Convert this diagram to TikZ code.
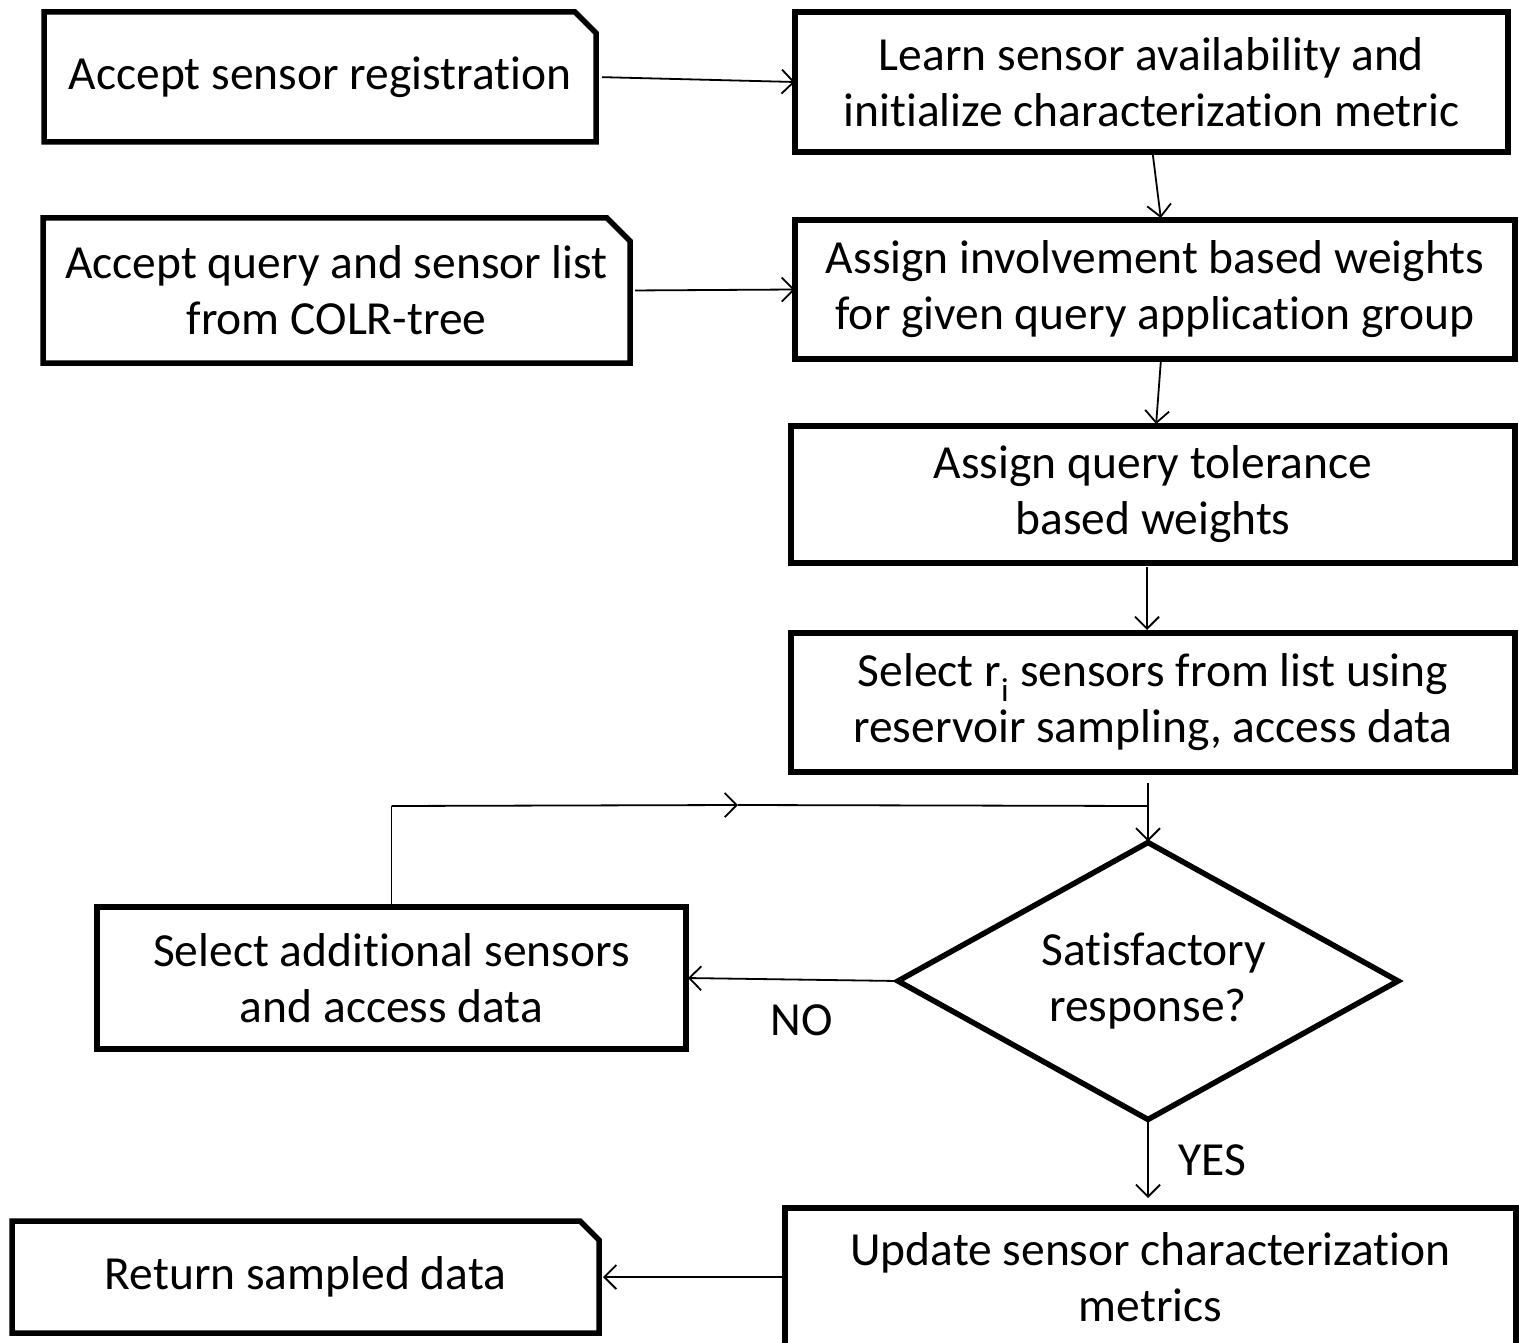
\documentclass[tikz,border=0pt]{standalone}
\usepackage{fontspec}
\setmainfont[Ligatures={NoCommon}]{Carlito}
\usetikzlibrary{arrows.meta,shapes.geometric}
\newcommand\cardoutline[2]{%
  \draw[boxline] (#1.south west) -- (#1.north west) -- ([xshift=-#2pt]#1.north east)
    -- ([yshift=-#2pt]#1.north east) -- (#1.south east) -- cycle;}
\begin{document}
\begin{tikzpicture}[x=1pt,y=-1pt,
  txt/.style={font=\fontsize{47.5}{56}\selectfont, align=center},
  boxline/.style={line width=5.5pt, line join=miter},
  proc/.style={draw, boxline, rectangle, inner sep=0pt, outer sep=0pt, txt},
  card/.style={rectangle, inner sep=0pt, outer sep=0pt, txt},
  decision/.style={draw, boxline, diamond, inner sep=0pt, outer sep=0pt, aspect=1.8, txt},
  conn/.style={line width=1.8pt},
  tip/.style={-{Straight Barb[length=12pt,width=24pt,line width=1.8pt]}},
  lbl/.style={txt, inner sep=0pt}
]
\useasboundingbox (0,0) rectangle (1519,1343);

% nodes
\node[card, minimum width=552pt, minimum height=130pt] (A) at (320,77) {Accept sensor registration};
\cardoutline{A}{21}
\node[proc, minimum width=713pt, minimum height=140pt] (B) at (1151.5,82) {Learn sensor availability and\\initialize characterization metric};
\node[card, minimum width=587pt, minimum height=145pt] (C) at (336.5,290.5) {Accept query and sensor list\\from COLR-tree};
\cardoutline{C}{23}
\node[proc, minimum width=720pt, minimum height=139pt] (D) at (1155,289.5) {Assign involvement based weights\\for given query application group};
\node[proc, minimum width=724pt, minimum height=137pt] (E) at (1153,494.5) {Assign query tolerance\\based weights};
\node[proc, minimum width=724pt, minimum height=139pt] (F) at (1153,702.5) {Select r\textsubscript{i} sensors from list using\\reservoir sampling, access data};
\node[decision, minimum width=500pt, minimum height=277pt] (dia) at (1148,981) {\hspace*{12pt}Satisfactory\\response?};
\node[proc, minimum width=589pt, minimum height=142pt] (G) at (391.5,978) {Select additional sensors\\and access data};
\node[proc, minimum width=731pt, minimum height=138pt] (H) at (1150.5,1277) {Update sensor characterization\\metrics};
\node[card, minimum width=587pt, minimum height=112pt] (I) at (305.5,1277) {Return sampled data};
\cardoutline{I}{19}

\node[lbl] (no) at (802,1020) {NO};
\node[lbl] (yes) at (1212,1160) {YES};

\coordinate (jn) at (1148,806);
\coordinate (lc) at (391.5,806);
\coordinate (lm) at (738,805);

% connectors
\draw[conn,tip,shorten <=6pt] (A.east) -- (B.west);
\draw[conn,tip,shorten <=5pt] (C.east) -- (D.west);
\draw[conn,tip,shorten >=2pt] ([xshift=1pt]B.south) -- ([xshift=6pt]D.north);
\draw[conn,tip,shorten <=2pt,shorten >=2pt] ([xshift=6pt]D.south) -- ([xshift=3pt]E.north);
\draw[conn,tip,shorten <=4pt,shorten >=3pt] ([xshift=-6pt]E.south) -- ([xshift=-6pt]F.north);
\draw[conn] ([yshift=-11pt]F.south -| jn) -- (jn);
\draw[conn,tip,shorten >=1pt] (jn) -- (dia.north);
\draw[conn] (G.north) -- (lc);
\draw[conn,tip] (lc) -- (lm);
\draw[conn] (lm) -- (jn);
\draw[conn,tip,shorten >=2pt] (dia.west) -- (G.east);
\draw[conn,tip,shorten >=10pt] (dia.south) -- (dia.south |- H.north);
\draw[conn,tip,shorten >=4pt] (H.west) -- (I.east);
\end{tikzpicture}
\end{document}
